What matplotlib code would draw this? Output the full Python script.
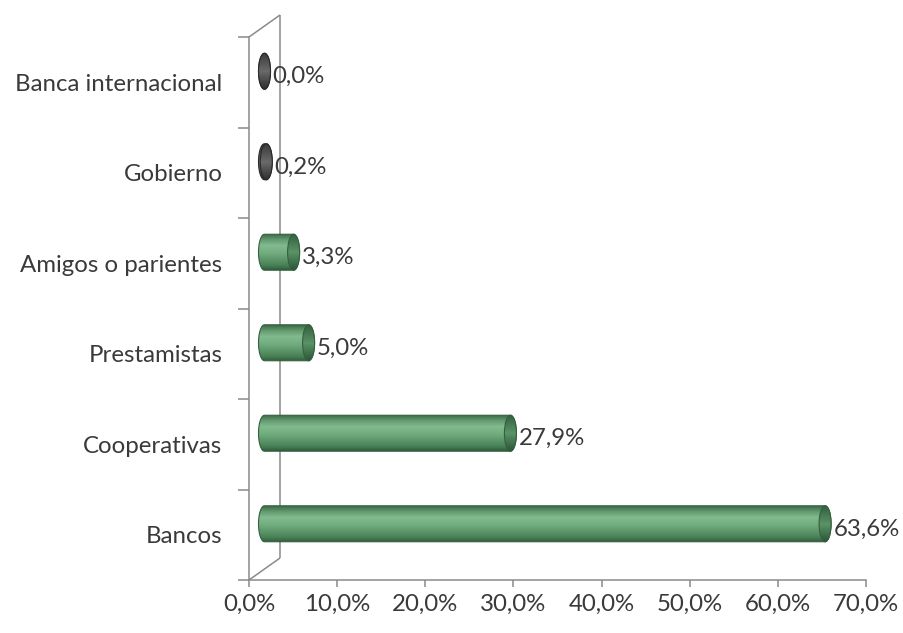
import matplotlib
matplotlib.use("Agg")
import matplotlib.pyplot as plt
import numpy as np
from matplotlib.path import Path
from matplotlib.patches import PathPatch, Ellipse
from matplotlib.colors import LinearSegmentedColormap
from matplotlib.ticker import FuncFormatter, FixedLocator

categories = ["Bancos", "Cooperativas", "Prestamistas", "Amigos o parientes",
              "Gobierno", "Banca internacional"]
values = [63.6, 27.9, 5.0, 3.3, 0.2, 0.0]
x_ticks = [0, 10, 20, 30, 40, 50, 60, 70]

plt.rcParams['font.family'] = ['Lato', 'DejaVu Sans']
TXT = '#3a3a3a'
AX = '#8a8a8a'
FS = 17.3

W, H = 904, 633
fig = plt.figure(figsize=(W / 100, H / 100), dpi=100)
fig.patch.set_facecolor('white')
ax = fig.add_axes([249 / W, 53 / H, 617 / W, 543 / H])
ax.set_xlim(0, 70)
ax.set_ylim(-0.5, 5.5)
ax.set_facecolor('none')

# 3D depth (data units)
dx = 31 / (617 / 70)
dy = 22 / (543 / 6)
h = 36 / (543 / 6)
a = 6 / (617 / 70)

for s in ['top', 'right']:
    ax.spines[s].set_visible(False)
for s in ['left', 'bottom']:
    ax.spines[s].set_color(AX)
    ax.spines[s].set_linewidth(1.1)

ax.xaxis.set_major_locator(FixedLocator(x_ticks))
ax.xaxis.set_major_formatter(FuncFormatter(lambda v, p: f"{v:.1f}".replace('.', ',') + '%'))
ax.tick_params(axis='x', direction='out', length=5, color=AX, width=1.1,
               labelsize=FS, labelcolor=TXT, pad=5)
ax.yaxis.set_major_locator(FixedLocator(np.arange(-0.5, 5.6, 1.0)))
ax.yaxis.set_major_formatter(FuncFormatter(lambda v, p: ''))
ax.yaxis.set_minor_locator(FixedLocator(np.arange(len(categories))))
ax.set_yticklabels(categories, minor=True)
ax.tick_params(axis='y', which='major', direction='out', length=8, color=AX, width=1.1)
ax.tick_params(axis='y', which='minor', length=0, labelsize=FS, labelcolor=TXT, pad=19)

# back wall lines
kw = dict(color=AX, lw=1.1, clip_on=False, zorder=1, solid_capstyle='butt')
ax.plot([0, dx], [-0.5, -0.5 + dy], **kw)
ax.plot([0, dx], [5.5, 5.5 + dy], **kw)
ax.plot([dx, dx], [-0.5 + dy, 5.5 + dy], **kw)

green = LinearSegmentedColormap.from_list('g', [
    (0.0, '#2f5a3a'), (0.12, '#467f54'), (0.45, '#6faa7c'), (0.68, '#82bb8e'),
    (0.85, '#63996f'), (1.0, '#3b6a47')])
gray = LinearSegmentedColormap.from_list('k', [
    (0.0, '#2e2e2e'), (0.5, '#6a6a6a'), (1.0, '#3a3a3a')])
grad = np.linspace(0, 1, 256).reshape(-1, 1)

t = np.linspace(-np.pi / 2, np.pi / 2, 40)
for i, v in enumerate(values):
    yc = i + dy / 2
    x0 = dx / 2
    x1 = v + dx / 2
    cmap = green if v >= 1 else gray
    edge = '#34603f' if v >= 1 else '#2a2a2a'
    top = [(x0, yc + h / 2), (x1, yc + h / 2)]
    right = list(zip(x1 + a * np.cos(t[::-1]), yc + h / 2 * np.sin(t[::-1])))
    left = list(zip(x0 - a * np.cos(t), yc + h / 2 * np.sin(t)))
    verts = top + right + [(x0, yc - h / 2)] + left + [(x0, yc + h / 2)]
    path = Path(verts, closed=False)
    body = PathPatch(path, facecolor='none', edgecolor=edge, lw=0.8, zorder=4)
    ax.add_patch(body)
    im = ax.imshow(grad, extent=[x0 - a, x1 + a, yc - h / 2, yc + h / 2],
                   origin='lower', aspect='auto', cmap=cmap, zorder=3,
                   interpolation='bilinear')
    im.set_clip_path(body)
    cap = Ellipse((x1, yc), 2 * a, h, facecolor='none', edgecolor=edge, lw=0.8, zorder=6)
    ax.add_patch(cap)
    capcm = LinearSegmentedColormap.from_list('c', [
        (0.0, '#2c5537'), (0.5, '#5a9366'), (1.0, '#345f40')]) if v >= 1 else gray
    imc = ax.imshow(grad, extent=[x1 - a, x1 + a, yc - h / 2, yc + h / 2],
                    origin='lower', aspect='auto', cmap=capcm, zorder=5,
                    interpolation='bilinear')
    imc.set_clip_path(cap)
    ax.text(x1 + a + 0.25, i + dy * 0.25, f"{v:.1f}".replace('.', ',') + '%',
            ha='left', va='center', fontsize=FS, color=TXT, zorder=7)

ax.set_xlim(0, 70)
ax.set_ylim(-0.5, 5.5)
fig.savefig('out.png', dpi=100, facecolor='white')
